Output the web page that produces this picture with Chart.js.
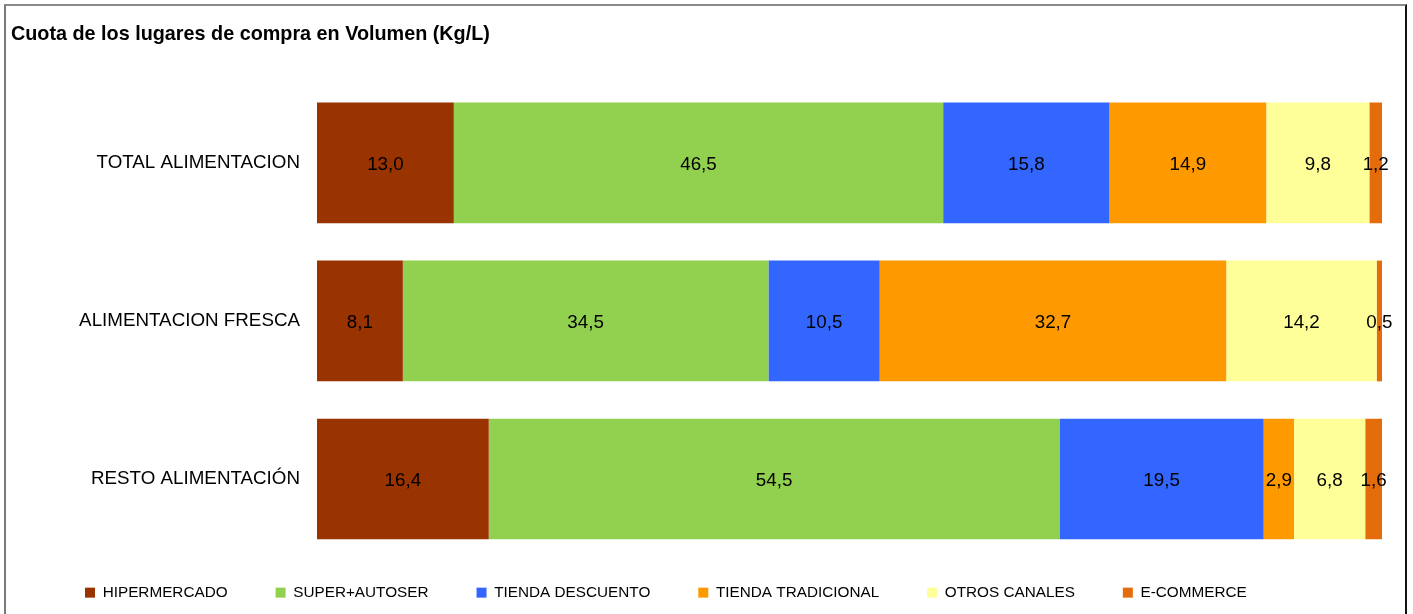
<!DOCTYPE html>
<html>
<head>
<meta charset="utf-8">
<script src="https://cdn.jsdelivr.net/npm/chart.js@4.4.1/dist/chart.umd.min.js"></script>
<style>
  html, body { margin: 0; padding: 0; background: #fff; overflow: hidden; }
  #wrap { position: relative; width: 1413px; height: 614px; }
  #frame { position: absolute; left: 4px; top: 4px; width: 1399px; height: 630px;
           border-left: 2px solid #7a7a7a; border-top: 2px solid #8a8a8a; border-right: 2px solid #111; }
  canvas { position: absolute; left: 0; top: 0; }
</style>
</head>
<body>
<div id="wrap">
  <div id="frame"></div>
  <canvas id="c" width="1413" height="614"></canvas>
</div>
<script>
// ---- data ----
const categories = ["TOTAL ALIMENTACION", "ALIMENTACION FRESCA", "RESTO ALIMENTACIÓN"];
const seriesNames = ["HIPERMERCADO", "SUPER+AUTOSER", "TIENDA DESCUENTO", "TIENDA TRADICIONAL", "OTROS CANALES", "E-COMMERCE"];
const hipermercado      = [13.0, 8.1, 16.4];
const superAutoser      = [46.5, 34.5, 54.5];
const tiendaDescuento   = [15.8, 10.5, 19.5];
const tiendaTradicional = [14.9, 32.7, 2.9];
const otrosCanales      = [9.8, 14.2, 6.8];
const eCommerce         = [1.2, 0.5, 1.6];
const titleText = "Cuota de los lugares de compra en Volumen (Kg/L)";

const seriesValues = [hipermercado, superAutoser, tiendaDescuento, tiendaTradicional, otrosCanales, eCommerce];
const seriesColors = ["#993300", "#92D050", "#3366FF", "#FF9900", "#FFFF99", "#E46C0A"];

// 100% stacked: each row normalised to its total
const rowTotals = categories.map((_, j) => seriesValues.reduce((s, arr) => s + arr[j], 0));

const FONT = "'Liberation Sans', Arial, Helvetica, sans-serif";

const datasets = seriesNames.map((name, i) => ({
  label: name,
  data: seriesValues[i].map((v, j) => v / rowTotals[j] * 100),
  raw: seriesValues[i],
  backgroundColor: seriesColors[i],
  borderWidth: 0,
  categoryPercentage: 1.0,
  barPercentage: 0.764
}));

const valueLabels = {
  id: 'valueLabels',
  afterDatasetsDraw(chart) {
    const ctx = chart.ctx;
    ctx.save();
    ctx.font = "18.8px " + FONT;
    ctx.fillStyle = "#000";
    ctx.textAlign = "center";
    ctx.textBaseline = "middle";
    chart.data.datasets.forEach((ds, i) => {
      const meta = chart.getDatasetMeta(i);
      meta.data.forEach((bar, j) => {
        const cx = (bar.x + bar.base) / 2;
        ctx.fillText(ds.raw[j].toFixed(1).replace('.', ','), cx, bar.y + 2);
      });
    });
    ctx.restore();
  }
};

const legendPlace = {
  id: 'legendPlace',
  afterLayout(chart) {
    const lg = chart.legend;
    if (!lg) return;
    lg.left = 37;
    lg.right = 1413;
    lg.top = 537;
    lg.bottom = 614;
    lg.width = lg.right - lg.left;
    lg.height = lg.bottom - lg.top;
  }
};

Chart.defaults.color = "#000";
Chart.defaults.font.family = FONT;

new Chart(document.getElementById('c'), {
  type: 'bar',
  data: { labels: categories, datasets },
  plugins: [valueLabels, legendPlace],
  options: {
    indexAxis: 'y',
    responsive: false,
    animation: false,
    layout: { padding: { left: 11, right: 31, top: 7, bottom: 26 } },
    scales: {
      x: { stacked: true, min: 0, max: 100, display: false },
      y: {
        stacked: true,
        grid: { display: false, drawTicks: false },
        border: { display: false },
        ticks: { color: "#000", font: { size: 18.8 }, padding: 17 },
        afterFit(scale) { scale.width = 306; }
      }
    },
    plugins: {
      tooltip: { enabled: false },
      title: {
        display: true,
        text: titleText,
        align: 'start',
        color: "#000",
        font: { size: 19.8, weight: 'bold' },
        padding: { top: 16, bottom: 37.2 }
      },
      legend: {
        position: 'bottom',
        align: 'start',
        maxHeight: 30,
        labels: {
          boxWidth: 10,
          boxHeight: 10,
          padding: 48,
          color: "#000",
          font: { size: 15.3 }
        }
      }
    }
  }
});
</script>
</body>
</html>
